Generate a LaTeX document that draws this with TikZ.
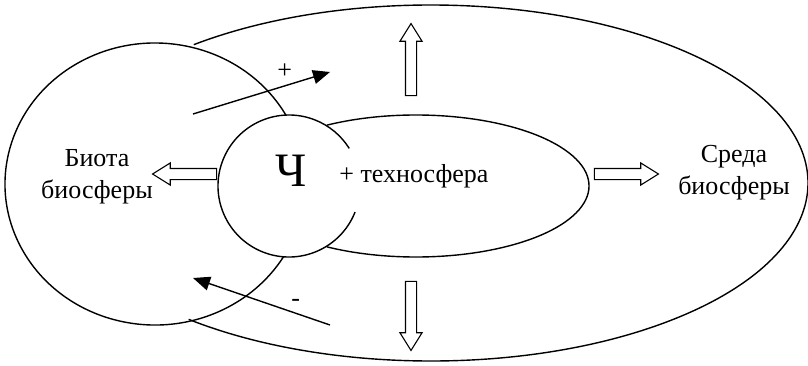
\documentclass[tikz,border=0pt]{standalone}
\usepackage{fontspec}
\setmainfont{Liberation Serif}
\usetikzlibrary{shapes.arrows, arrows.meta, positioning}

\begin{document}
\begin{tikzpicture}[
    x=1pt, y=-1pt,
    every node/.style={font=\fontsize{26}{32}\selectfont},
    ring/.style={line width=1.4pt},
    lbl/.style={align=center, inner sep=0pt},
    blk/.style={single arrow, draw, line width=1.1pt, inner sep=5pt,
                single arrow head extend=5.5pt, single arrow tip angle=64,
                minimum height=#1},
    arr/.style={-{Triangle[length=17pt, width=14pt]}, line width=1.4pt}
]
    \useasboundingbox (0,0) rectangle (808,365);
    \coordinate (env) at (431,183);
    \coordinate (bio) at (155,184);
    \coordinate (man) at (289,186);
    \coordinate (tech) at (416,186);

    % outlines, each cut where it meets the next one
    \draw[ring] (env) ++(-129:377 and 178)
        arc[start angle=-129, end angle=130, x radius=377, y radius=178];
    \draw[ring] (bio) ++(-29:150 and 141)
        arc[start angle=-29, end angle=-329, x radius=150, y radius=141];
    \draw[ring] (man) ++(21.5:71 and 71)
        arc[start angle=21.5, end angle=328, radius=71];
    \draw[ring] (tech) ++(-121:173 and 71)
        arc[start angle=-121, end angle=121, x radius=173, y radius=71];

    \node[lbl] (biota) at (97,177) {Биота\\биосферы};
    \node[lbl] (sreda) at (734,173) {Среда\\биосферы};
    \node[lbl, font=\fontsize{48}{48}\selectfont] (ch) at (291,171) {Ч};
    \node[lbl] (ts) at (414,176) {+ техносфера};

    \node[blk=64pt, shape border rotate=180] (aw) at (189,174) {};
    \node[blk=64pt] (ae) at (622,174) {};
    \node[blk=72pt, shape border rotate=90] (an) at (411,64) {};
    \node[blk=69pt, shape border rotate=270] (as) at (411,311.5) {};

    \coordinate (p1) at (193,114);
    \coordinate (p2) at (330,72);
    \coordinate (m1) at (330,325);
    \coordinate (m2) at (193,278);
    \draw[arr] (p1) -- (p2) node[pos=0.67, above=7pt, inner sep=0pt] (plus) {+};
    \draw[arr] (m1) -- (m2) node[pos=0.25, above=6pt, inner sep=0pt] (minus) {-};
\end{tikzpicture}
\end{document}
